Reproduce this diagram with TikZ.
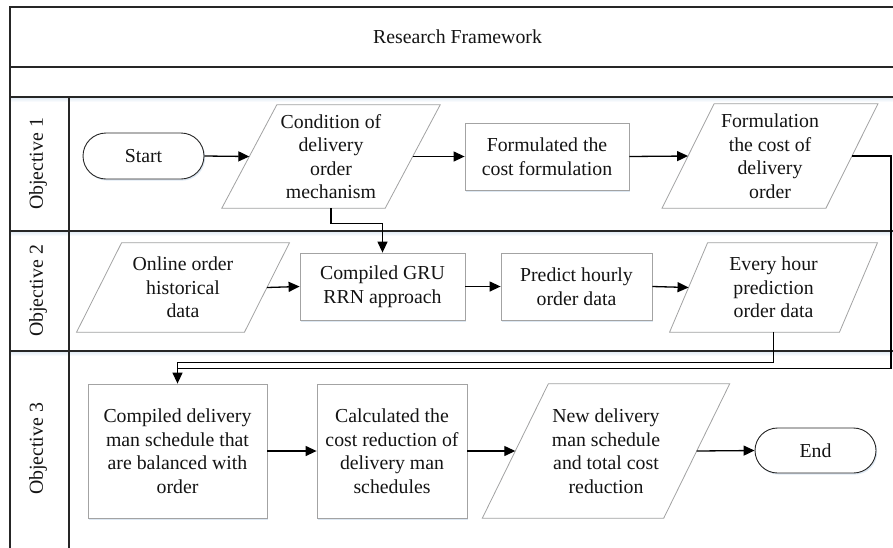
\documentclass[tikz,border=0pt]{standalone}
\usepackage{fontspec}
\setmainfont{Liberation Serif}
\usetikzlibrary{arrows.meta,shapes.misc,backgrounds,shadows}

\definecolor{framec}{HTML}{262626}
\definecolor{edgec}{HTML}{A3A3A3}
\definecolor{shadec}{HTML}{DDE8F3}
\definecolor{inkc}{HTML}{141414}

\tikzset{
  frame/.style={draw=framec, line width=1.1pt},
  txt/.style={font=\fontsize{19.8}{23.5}\selectfont, text=inkc, align=center, inner sep=0pt},
  shadowed/.style={drop shadow={shadow xshift=1.2pt, shadow yshift=-1.6pt, fill=shadec, opacity=1}},
  box/.style={txt, draw=edgec, line width=0.8pt, fill=white, shadowed},
  terminal/.style={txt, rounded rectangle, draw=framec, line width=0.9pt, fill=white, shadowed,
    minimum width=121pt, minimum height=46pt},
  paraedge/.style={draw=edgec, line width=0.8pt, fill=white},
  arr/.style={draw=black, line width=1.3pt, -{Triangle[length=11pt,width=10pt]}},
  joinline/.style={draw=black, line width=1.3pt},
  lanelabel/.style={txt, rotate=90},
}

% parallelogram data box: name, x, y, width at mid height, height, slant, text
\newcommand\paranode[7]{%
  \node[txt, minimum width=#4, minimum height=#5] (#1) at (#2,#3) {#7};
  \begin{scope}[on background layer]
    \fill[shadec, xshift=1.2pt, yshift=-1.6pt]
      ([xshift=#6/2]#1.north west) -- ([xshift=#6/2]#1.north east) --
      ([xshift=-#6/2]#1.south east) -- ([xshift=-#6/2]#1.south west) -- cycle;
    \path[paraedge]
      ([xshift=#6/2]#1.north west) -- ([xshift=#6/2]#1.north east) --
      ([xshift=-#6/2]#1.south east) -- ([xshift=-#6/2]#1.south west) -- cycle;
  \end{scope}
}

\begin{document}
\begin{tikzpicture}[x=1pt, y=-1pt]
\useasboundingbox (0,0) rectangle (893,547);
\clip (0,0) rectangle (893,547);

% soft tint under each swimlane border
\foreach \yy in {97,231,351} {
  \shade[top color=shadec, bottom color=white] (10,\yy) rectangle (910,\yy+5);
}

% table frame and swimlanes
\draw[frame] (10,570) -- (10,7) -- (910,7);
\draw[frame] (10,67) -- (910,67);
\draw[frame] (10,97) -- (910,97);
\draw[frame] (10,231) -- (910,231);
\draw[frame] (10,351) -- (910,351);
\draw[frame] (69,97) -- (69,570);

\node[txt] (title) at (457.5,36.5) {Research Framework};

\node[lanelabel] (lane1) at (38,164) {Objective 1};
\node[lanelabel] (lane2) at (38,291) {Objective 2};
\node[lanelabel] (lane3) at (38,449) {Objective 3};

% Objective 1
\node[terminal] (start) at (143.5,156) {Start};
\paranode{cond}{331}{156.5}{163pt}{103pt}{55pt}{Condition of\\delivery\\order\\mechanism}
\node[box, minimum width=164pt, minimum height=67pt] (form) at (547,156.5) {Formulated the\\cost formulation};
\paranode{fcost}{770}{156}{163.5pt}{104pt}{52pt}{Formulation\\the cost of\\delivery\\order}

% Objective 2
\paranode{online}{183}{287.5}{167.5pt}{89pt}{45pt}{Online order\\historical\\data}
\node[box, minimum width=165pt, minimum height=67pt] (gru) at (382.5,286.5) {Compiled GRU\\RRN approach};
\node[box, minimum width=151pt, minimum height=67pt] (pred) at (576.5,286.5) {Predict hourly\\order data};
\paranode{hour}{773.5}{287.5}{169.5pt}{89pt}{38pt}{Every hour\\prediction\\order data}

% Objective 3
\node[box, minimum width=179pt, minimum height=134pt] (sched) at (177.5,451) {Compiled delivery\\man schedule that\\are balanced with\\order};
\node[box, minimum width=150pt, minimum height=134pt] (calc) at (392,451) {Calculated the\\cost reduction of\\delivery man\\schedules};
\paranode{newsch}{606}{451}{181pt}{134pt}{66pt}{New delivery\\man schedule\\and total cost\\reduction}
\node[terminal, minimum height=45pt] (end) at (815.5,450.5) {End};

% connectors
\coordinate (join) at ([yshift=15pt]sched.north);
\draw[arr] (start.east) -- (cond.west);
\draw[arr] (cond.east) -- (form.west);
\draw[arr] (form.east) -- (fcost.west);
\draw[arr] (cond.south) -- ++(0,15) -| (gru.north);
\draw[arr] (online.east) -- (gru.west);
\draw[arr] (gru.east) -- (pred.west);
\draw[arr] (pred.east) -- (hour.west);
\draw[arr] (hour.south) -- ++(0,30) -| (sched.north);
\draw[joinline] (fcost.east) -- ++(39,0) |- (join);
\draw[arr] (sched.east) -- (calc.west);
\draw[arr] (calc.east) -- (newsch.west);
\draw[arr] (newsch.east) -- (end.west);
\end{tikzpicture}
\end{document}
